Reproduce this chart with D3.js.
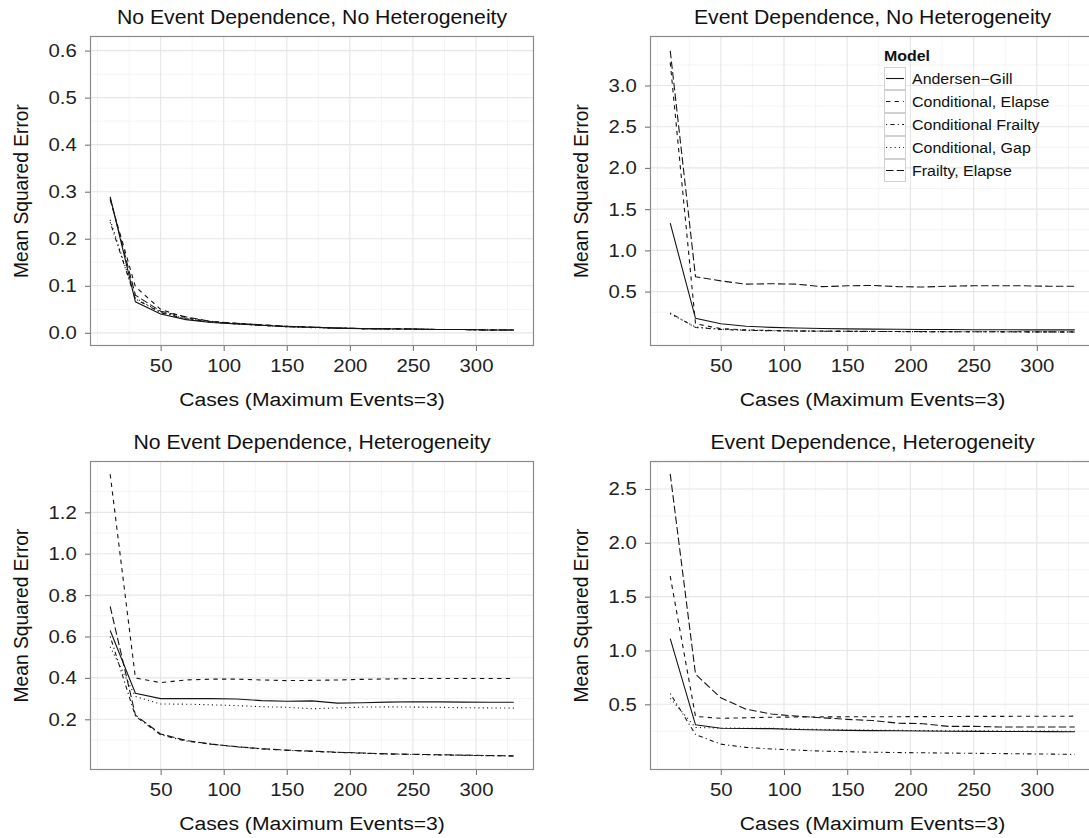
<!DOCTYPE html>
<html>
<head>
<meta charset="utf-8">
<script src="https://cdn.jsdelivr.net/npm/d3@7"></script>
<style>
  html, body { margin: 0; padding: 0; background: #ffffff; }
  svg { display: block; }
  text { font-family: "Liberation Sans", Arial, Helvetica, sans-serif; }
</style>
</head>
<body>
<svg id="chart" width="1089" height="838"></svg>
<script>
// ---------------- data ----------------
const cases = [10, 30, 50, 70, 90, 110, 130, 150, 170, 190, 210, 230, 250, 270, 290, 310, 330];
const models = ["Andersen\u2212Gill", "Conditional, Elapse", "Conditional Frailty", "Conditional, Gap", "Frailty, Elapse"];
const panelTitles = [
  "No Event Dependence, No Heterogeneity",
  "Event Dependence, No Heterogeneity",
  "No Event Dependence, Heterogeneity",
  "Event Dependence, Heterogeneity"
];
const xTickLabels = [50, 100, 150, 200, 250, 300];
const yTicksP1 = [0.0, 0.1, 0.2, 0.3, 0.4, 0.5, 0.6];
const yTicksP2 = [0.5, 1.0, 1.5, 2.0, 2.5, 3.0];
const yTicksP3 = [0.2, 0.4, 0.6, 0.8, 1.0, 1.2];
const yTicksP4 = [0.5, 1.0, 1.5, 2.0, 2.5];
const yMinorP1 = [0.05, 0.15, 0.25, 0.35, 0.45, 0.55];
const yMinorP2 = [0.25, 0.75, 1.25, 1.75, 2.25, 2.75, 3.25];
const yMinorP3 = [0.1, 0.3, 0.5, 0.7, 0.9, 1.1, 1.3];
const yMinorP4 = [0.25, 0.75, 1.25, 1.75, 2.25, 2.75];
const xMinor = [0, 25, 75, 125, 175, 225, 275, 325];

// Panel 1: No Event Dependence, No Heterogeneity
const p1_AG = [0.289, 0.066, 0.040, 0.028, 0.022, 0.019, 0.016, 0.013, 0.012, 0.010, 0.009, 0.008, 0.008, 0.007, 0.007, 0.006, 0.006];
const p1_CE = [0.283, 0.098, 0.050, 0.032, 0.024, 0.020, 0.017, 0.014, 0.012, 0.010, 0.009, 0.009, 0.008, 0.007, 0.007, 0.006, 0.006];
const p1_CF = [0.235, 0.072, 0.043, 0.030, 0.023, 0.019, 0.016, 0.013, 0.012, 0.010, 0.009, 0.008, 0.008, 0.007, 0.007, 0.006, 0.006];
const p1_CG = [0.240, 0.074, 0.044, 0.030, 0.023, 0.019, 0.016, 0.013, 0.011, 0.010, 0.009, 0.008, 0.008, 0.007, 0.007, 0.006, 0.006];
const p1_FE = [0.286, 0.080, 0.046, 0.034, 0.024, 0.020, 0.017, 0.014, 0.012, 0.010, 0.009, 0.009, 0.008, 0.007, 0.007, 0.006, 0.006];

// Panel 2: Event Dependence, No Heterogeneity
const p2_AG = [1.33, 0.175, 0.11, 0.08, 0.066, 0.058, 0.052, 0.048, 0.045, 0.043, 0.041, 0.040, 0.038, 0.037, 0.036, 0.035, 0.035];
const p2_CE = [3.28, 0.11, 0.05, 0.035, 0.028, 0.024, 0.021, 0.019, 0.017, 0.016, 0.015, 0.014, 0.013, 0.012, 0.012, 0.011, 0.011];
const p2_CF = [0.24, 0.065, 0.04, 0.03, 0.025, 0.021, 0.019, 0.017, 0.016, 0.015, 0.014, 0.013, 0.012, 0.012, 0.011, 0.011, 0.010];
const p2_CG = [0.23, 0.07, 0.045, 0.032, 0.026, 0.022, 0.020, 0.018, 0.016, 0.015, 0.014, 0.013, 0.013, 0.012, 0.012, 0.011, 0.011];
const p2_FE = [3.42, 0.68, 0.63, 0.59, 0.595, 0.59, 0.56, 0.57, 0.575, 0.56, 0.555, 0.565, 0.57, 0.57, 0.57, 0.565, 0.565];

// Panel 3: No Event Dependence, Heterogeneity
const p3_AG = [0.629, 0.326, 0.300, 0.300, 0.300, 0.298, 0.290, 0.287, 0.289, 0.278, 0.280, 0.283, 0.285, 0.284, 0.283, 0.282, 0.282];
const p3_CE = [1.384, 0.400, 0.377, 0.390, 0.394, 0.394, 0.390, 0.387, 0.388, 0.390, 0.393, 0.395, 0.397, 0.397, 0.397, 0.397, 0.397];
const p3_CF = [0.600, 0.215, 0.125, 0.095, 0.080, 0.067, 0.057, 0.050, 0.045, 0.040, 0.036, 0.032, 0.030, 0.028, 0.026, 0.024, 0.023];
const p3_CG = [0.550, 0.310, 0.274, 0.273, 0.270, 0.266, 0.261, 0.258, 0.251, 0.255, 0.259, 0.260, 0.259, 0.258, 0.256, 0.255, 0.254];
const p3_FE = [0.745, 0.220, 0.129, 0.098, 0.080, 0.068, 0.058, 0.051, 0.046, 0.041, 0.037, 0.033, 0.031, 0.029, 0.027, 0.025, 0.023];

// Panel 4: Event Dependence, Heterogeneity
const p4_AG = [1.11, 0.31, 0.278, 0.275, 0.274, 0.266, 0.262, 0.258, 0.256, 0.254, 0.252, 0.250, 0.249, 0.248, 0.247, 0.246, 0.245];
const p4_CE = [1.69, 0.387, 0.370, 0.375, 0.380, 0.382, 0.383, 0.384, 0.385, 0.385, 0.386, 0.387, 0.388, 0.388, 0.389, 0.389, 0.390];
const p4_CF = [0.60, 0.22, 0.13, 0.10, 0.085, 0.075, 0.065, 0.060, 0.055, 0.052, 0.050, 0.047, 0.045, 0.043, 0.040, 0.038, 0.035];
const p4_CG = [0.556, 0.285, 0.280, 0.278, 0.277, 0.270, 0.266, 0.262, 0.260, 0.258, 0.256, 0.255, 0.254, 0.253, 0.252, 0.251, 0.250];
const p4_FE = [2.64, 0.78, 0.56, 0.455, 0.41, 0.39, 0.375, 0.36, 0.35, 0.325, 0.32, 0.295, 0.295, 0.29, 0.29, 0.29, 0.29];

// ---------------- layout & style ----------------
const SX = 1.1;          // horizontal stretch of glyphs in the reference
const dashes = ["none", "4.3,4.3", "1.1,3.2,4.3,3.2", "1.1,3.2", "7.5,3.2"];
const panels = [
  { left: 90,  top: 36,  w: 444, h: 310, yDom: [-0.028, 0.631], ticks: yTicksP1, minor: yMinorP1, series: [p1_AG, p1_CE, p1_CF, p1_CG, p1_FE] },
  { left: 650, top: 36,  w: 445, h: 310, yDom: [-0.16, 3.60],   ticks: yTicksP2, minor: yMinorP2, series: [p2_AG, p2_CE, p2_CF, p2_CG, p2_FE] },
  { left: 90,  top: 461, w: 444, h: 309, yDom: [-0.045, 1.448], ticks: yTicksP3, minor: yMinorP3, series: [p3_AG, p3_CE, p3_CF, p3_CG, p3_FE] },
  { left: 650, top: 461, w: 445, h: 309, yDom: [-0.11, 2.76],   ticks: yTicksP4, minor: yMinorP4, series: [p4_AG, p4_CE, p4_CF, p4_CG, p4_FE] }
];

const svg = d3.select("#chart");

function stext(parent, x, y, str, size, anchor, opts = {}) {
  const t = parent.append("text")
    .attr("transform", `translate(${x},${y}) scale(${SX},1)` + (opts.rotate ? ` rotate(${opts.rotate})` : ""))
    .attr("text-anchor", anchor)
    .attr("font-size", size)
    .attr("fill", opts.fill || "#000")
    .text(str);
  if (opts.weight) t.attr("font-weight", opts.weight);
  return t;
}

panels.forEach((p, i) => {
  const x = d3.scaleLinear().domain([-6, 346]).range([p.left, p.left + p.w]);
  const y = d3.scaleLinear().domain(p.yDom).range([p.top + p.h, p.top]);
  const clipId = "clip" + i;
  svg.append("clipPath").attr("id", clipId)
    .append("rect").attr("x", p.left).attr("y", p.top).attr("width", p.w).attr("height", p.h);

  const g = svg.append("g");
  g.append("rect").attr("x", p.left).attr("y", p.top).attr("width", p.w).attr("height", p.h).attr("fill", "#fff");

  const grid = g.append("g").attr("clip-path", `url(#${clipId})`);
  // minor grid
  grid.selectAll(".mx").data(xMinor).enter().append("line")
    .attr("x1", d => x(d)).attr("x2", d => x(d)).attr("y1", p.top).attr("y2", p.top + p.h)
    .attr("stroke", "#f4f4f4").attr("stroke-width", 1);
  grid.selectAll(".my").data(p.minor).enter().append("line")
    .attr("y1", d => y(d)).attr("y2", d => y(d)).attr("x1", p.left).attr("x2", p.left + p.w)
    .attr("stroke", "#f4f4f4").attr("stroke-width", 1);
  // major grid
  grid.selectAll(".Mx").data(xTickLabels).enter().append("line")
    .attr("x1", d => x(d)).attr("x2", d => x(d)).attr("y1", p.top).attr("y2", p.top + p.h)
    .attr("stroke", "#e6e6e6").attr("stroke-width", 1.1);
  grid.selectAll(".My").data(p.ticks).enter().append("line")
    .attr("y1", d => y(d)).attr("y2", d => y(d)).attr("x1", p.left).attr("x2", p.left + p.w)
    .attr("stroke", "#e6e6e6").attr("stroke-width", 1.1);

  // series lines
  const line = d3.line().x((d, k) => x(cases[k])).y(d => y(d));
  const lg = g.append("g").attr("clip-path", `url(#${clipId})`);
  p.series.forEach((s, m) => {
    lg.append("path").datum(s)
      .attr("d", line)
      .attr("fill", "none")
      .attr("stroke", "#151515")
      .attr("stroke-width", 1.1)
      .attr("stroke-dasharray", dashes[m]);
  });

  // panel border
  g.append("rect").attr("x", p.left + 0.5).attr("y", p.top + 0.5).attr("width", p.w - 1).attr("height", p.h - 1)
    .attr("fill", "none").attr("stroke", "#8a8a8a").attr("stroke-width", 1.2);

  // axes
  const ax = g.append("g").attr("transform", `translate(0,${p.top + p.h})`)
    .call(d3.axisBottom(x).tickValues(xTickLabels).tickSize(5).tickPadding(8).tickFormat(d3.format("d")));
  const ay = g.append("g").attr("transform", `translate(${p.left},0)`)
    .call(d3.axisLeft(y).tickValues(p.ticks).tickSize(5).tickPadding(7).tickFormat(d3.format(".1f")));
  [ax, ay].forEach(a => {
    a.select(".domain").remove();
    a.selectAll(".tick line").attr("stroke", "#777").attr("stroke-width", 1.1);
    a.selectAll(".tick text")
      .attr("font-size", 18.5)
      .attr("font-family", "'Liberation Sans', Arial, Helvetica, sans-serif")
      .attr("fill", "#222")
      .attr("transform", `scale(${SX},1)`);
  });

  // titles
  stext(svg, p.left + p.w / 2, p.top - 12, panelTitles[i], 19.3, "middle", { fill: "#111" });
  stext(svg, p.left + p.w / 2 - (p.left === 650 ? 0 : 0), p.top + p.h + 60, "Cases (Maximum Events=3)", 19.2, "middle", { fill: "#111" });
  stext(svg, p.left - 62, p.top + p.h / 2, "Mean Squared Error", 19.2, "middle", { fill: "#111", rotate: -90 });
});

// ---------------- legend (inside panel 2) ----------------
const leg = svg.append("g");
stext(leg, 884, 61, "Model", 14.5, "start", { weight: "bold", fill: "#111" });
const keyTop = 67, keyH = 23, keyW = 22, keyX = 884;
models.forEach((name, m) => {
  const yy = keyTop + m * keyH;
  leg.append("rect").attr("x", keyX + 0.5).attr("y", yy + 0.5).attr("width", keyW - 1).attr("height", keyH - 1)
    .attr("fill", "#fff").attr("stroke", "#d0d0d0").attr("stroke-width", 1);
  leg.append("line")
    .attr("x1", keyX + 2).attr("x2", keyX + keyW - 2)
    .attr("y1", yy + keyH / 2).attr("y2", yy + keyH / 2)
    .attr("stroke", "#151515").attr("stroke-width", 1.1)
    .attr("stroke-dasharray", dashes[m]);
  stext(leg, 912, yy + keyH / 2 + 5.2, name, 14.5, "start", { fill: "#111" });
});
</script>
</body>
</html>
